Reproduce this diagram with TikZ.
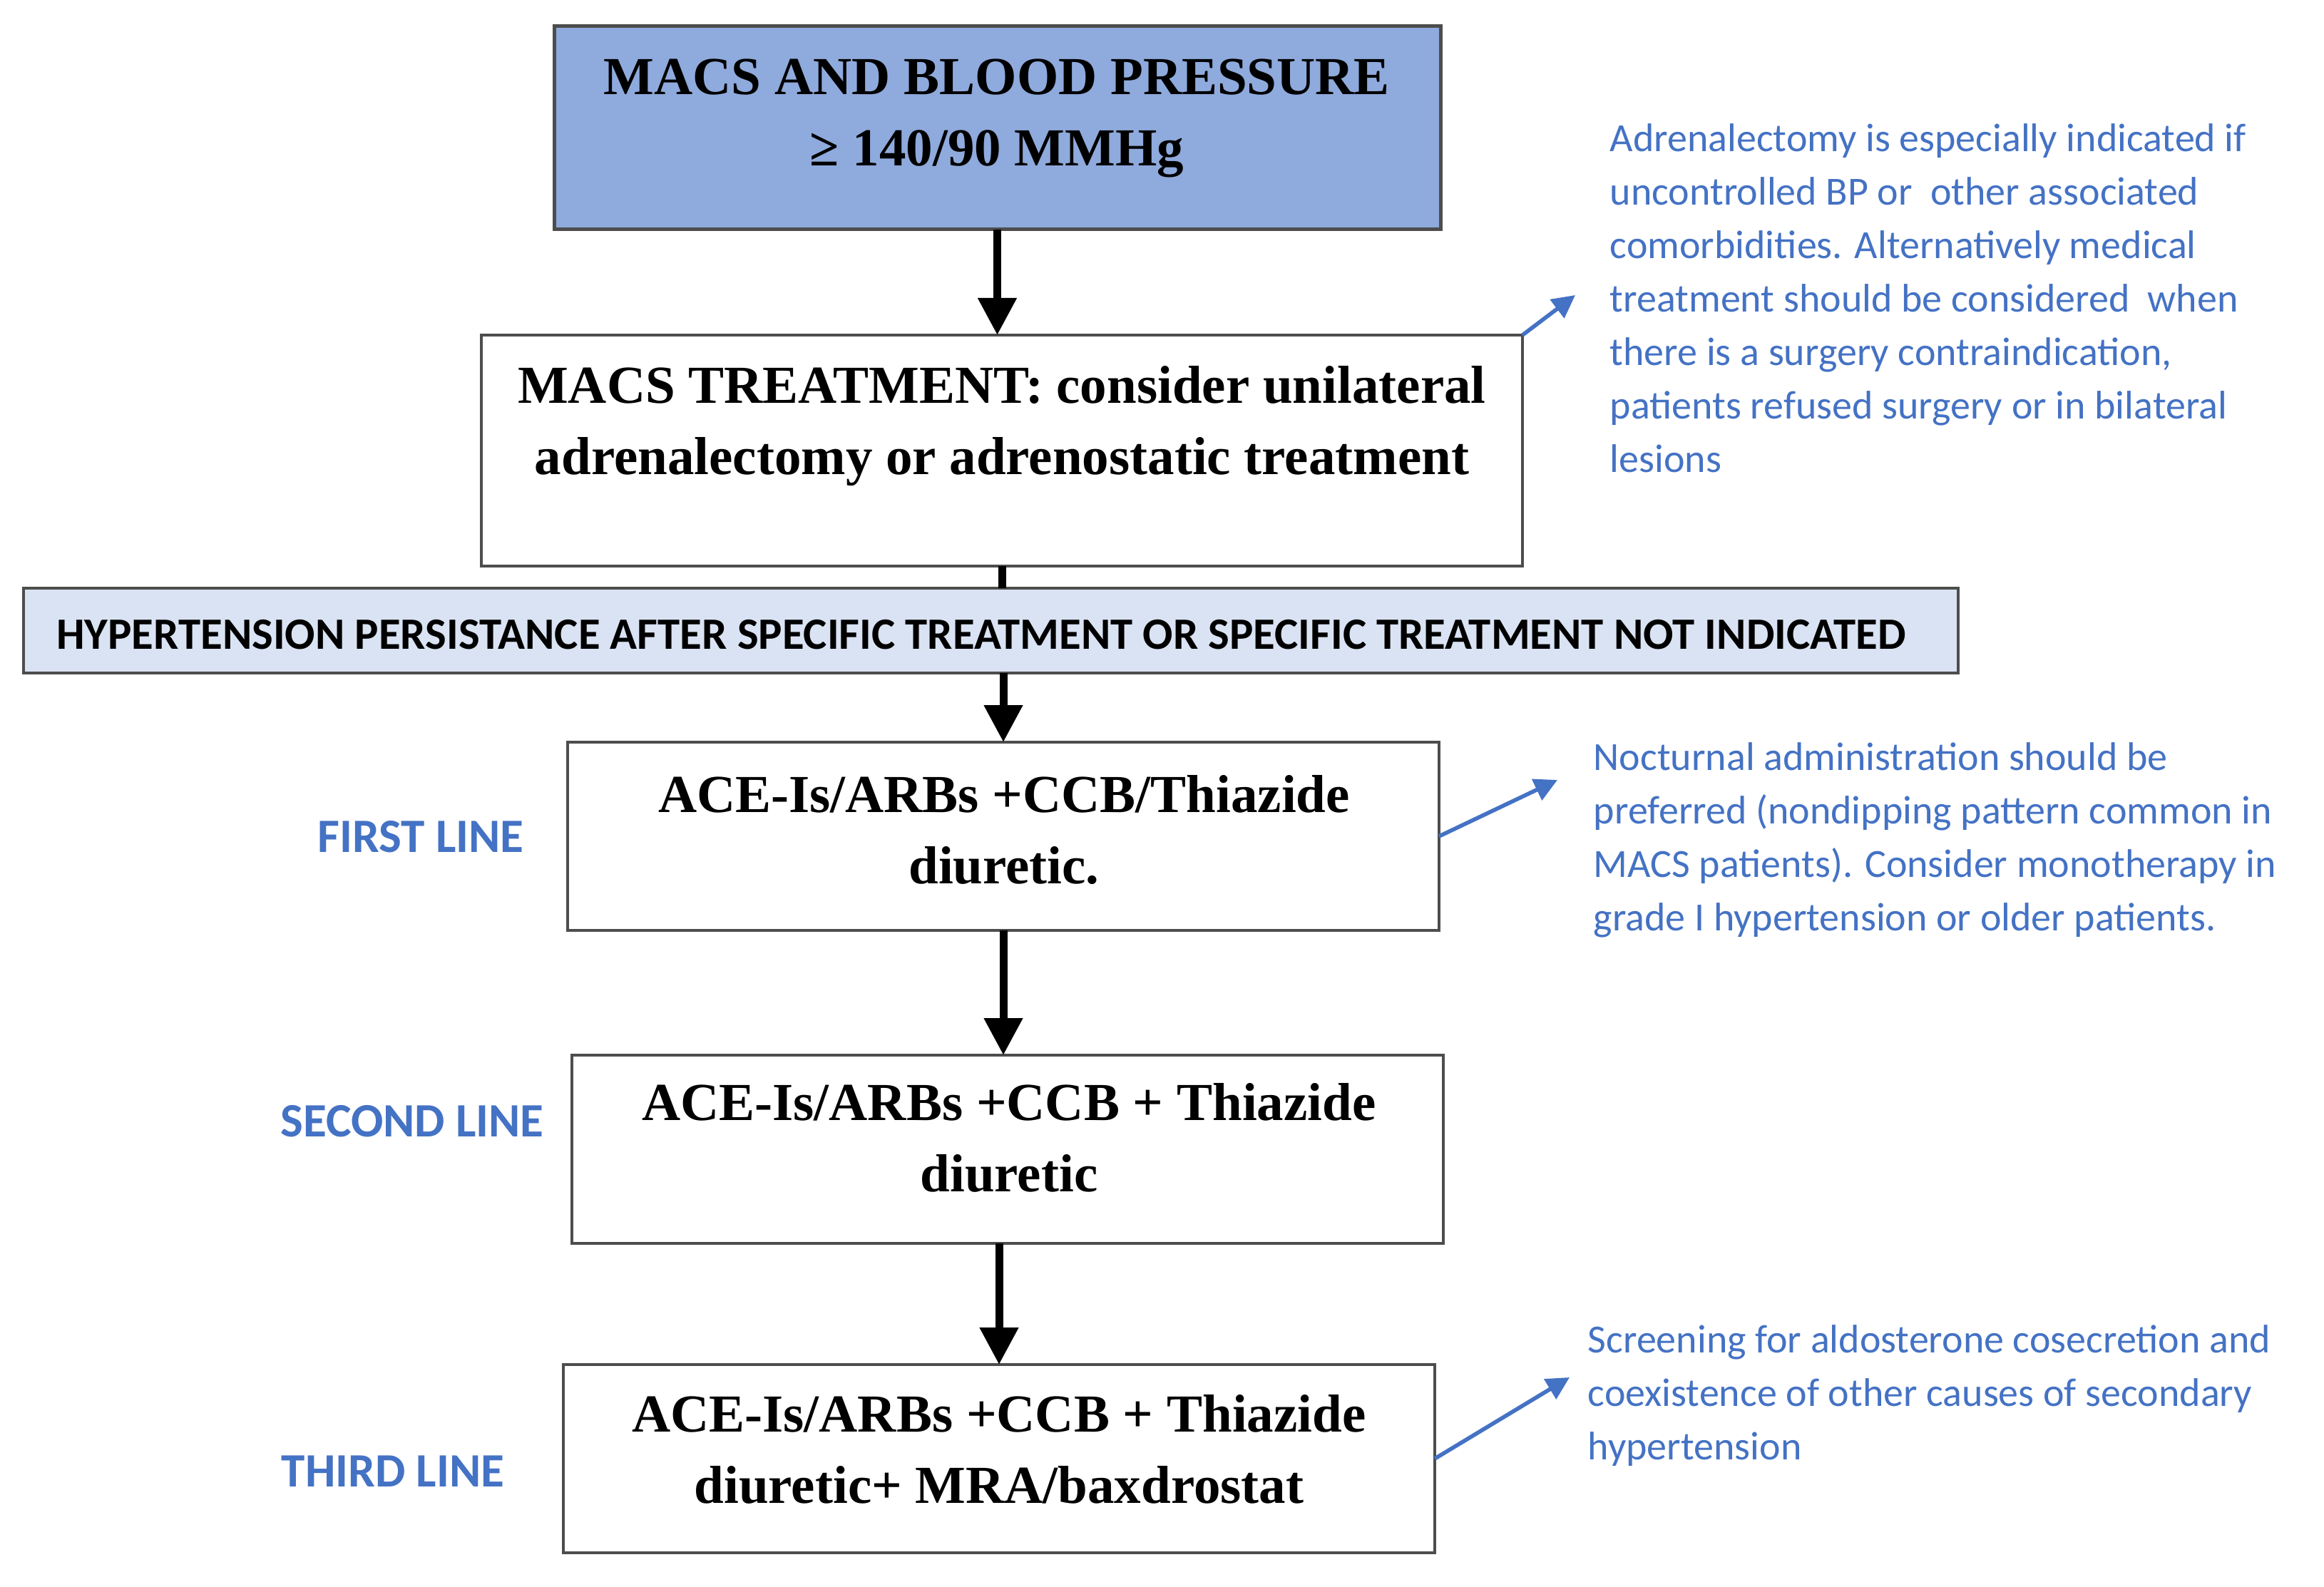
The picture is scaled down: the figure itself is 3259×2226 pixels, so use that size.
\documentclass[tikz,border=0pt]{standalone}
\usepackage{fontspec}
\setmainfont{Liberation Serif}
\newfontfamily\calib{Carlito}
\usetikzlibrary{arrows.meta}
\definecolor{hdrfill}{HTML}{8FAADC}
\definecolor{banfill}{HTML}{DAE3F3}
\definecolor{noteblue}{HTML}{4472C4}
\definecolor{edgegray}{HTML}{4D4D4D}
\begin{document}
\begin{tikzpicture}[x=0.25pt,y=-0.25pt,
  box/.style={draw=edgegray,line width=1pt,inner sep=0pt,outer sep=0pt,fill=white},
  boxtext/.style={font=\fontsize{18.75}{25}\selectfont\bfseries,align=center,inner sep=0pt,anchor=base},
  note/.style={font=\calib\fontsize{14}{18.75}\selectfont,text=noteblue,align=left,inner sep=0pt,anchor=base west},
  linelabel/.style={font=\calib\bfseries\fontsize{16.8}{20}\selectfont,text=noteblue,inner sep=0pt,anchor=base},
  flow/.style={line width=2.75pt,-{Triangle[width=13pt,length=13pt]}},
  noteline/.style={draw=noteblue,line width=1.4pt,-{Triangle[width=8pt,length=8pt]}}
]
\useasboundingbox[fill=white] (0,0) rectangle (3259,2226);

% boxes
\node[box,fill=hdrfill,line width=1.25pt,minimum width=310.75pt,minimum height=71.25pt] (b1) at (1398.5,179.5) {};
\node[box,minimum width=365pt,minimum height=81pt] (b2) at (1405,632) {};
\node[box,fill=banfill,minimum width=678.25pt,minimum height=29.75pt] (ban) at (1389.5,884.5) {};
\node[box,minimum width=305.5pt,minimum height=66pt] (b4) at (1407,1173) {};
\node[box,minimum width=305.5pt,minimum height=66pt] (b5) at (1413,1612) {};
\node[box,minimum width=305.5pt,minimum height=66pt] (b6) at (1401,2046) {};

% box texts (anchor = baseline of last line)
\node[boxtext] (t1) at (1398,233) {MACS AND BLOOD PRESSURE\\≥ 140/90 MMHg};
\node[boxtext] (t2) at (1405,665) {MACS TREATMENT: consider unilateral\\adrenalectomy or adrenostatic treatment};
\node[font=\calib\bfseries\fontsize{15.7}{18}\selectfont,inner sep=0pt,anchor=base] (tban) at (1376,910) {HYPERTENSION PERSISTANCE AFTER SPECIFIC TREATMENT OR SPECIFIC TREATMENT NOT INDICATED};
\node[boxtext] (t4) at (1408,1239) {ACE-Is/ARBs +CCB/Thiazide\\diuretic.};
\node[boxtext] (t5) at (1415,1671) {ACE-Is/ARBs +CCB + Thiazide\\diuretic};
\node[boxtext] (t6) at (1401,2108) {ACE-Is/ARBs +CCB + Thiazide\\diuretic+ MRA/baxdrostat};

% line labels
\node[linelabel] (l1) at (590,1195) {FIRST LINE};
\node[linelabel] (l2) at (578,1594) {SECOND LINE};
\node[linelabel] (l3) at (551,2085) {THIRD LINE};

% notes (anchor = baseline of last line)
\node[note] (n1) at (2257,662) {Adrenalectomy is especially indicated if\\uncontrolled BP or\ \ other associated\\comorbidities. Alternatively medical\\treatment should be considered\ \ when\\there is a surgery contraindication,\\patients refused surgery or in bilateral\\lesions};
\node[note] (n2) at (2234,1305) {Nocturnal administration should be\\preferred (nondipping pattern common in\\MACS patients). Consider monotherapy in\\grade I hypertension or older patients.};
\node[note] (n3) at (2226,2047) {Screening for aldosterone cosecretion and\\coexistence of other causes of secondary\\hypertension};

% flow arrows
\draw[flow] (b1.south) -- (b1.south |- b2.north);
\draw[line width=2.75pt] (b2.south) -- (b2.south |- ban.north);
\draw[flow] (b4.north |- ban.south) -- (b4.north);
\draw[flow] (b4.south) -- (b4.south |- b5.north);
\draw[flow] (b6.north |- b5.south) -- (b6.north);

% note arrows
\coordinate (e1) at (2209,414);
\coordinate (e2) at (2184,1094);
\coordinate (e3) at (2201,1932);
\draw[noteline] (b2.north east) -- (e1);
\draw[noteline] (b4.east) -- (e2);
\draw[noteline] (b6.east) -- (e3);
\end{tikzpicture}
\end{document}
